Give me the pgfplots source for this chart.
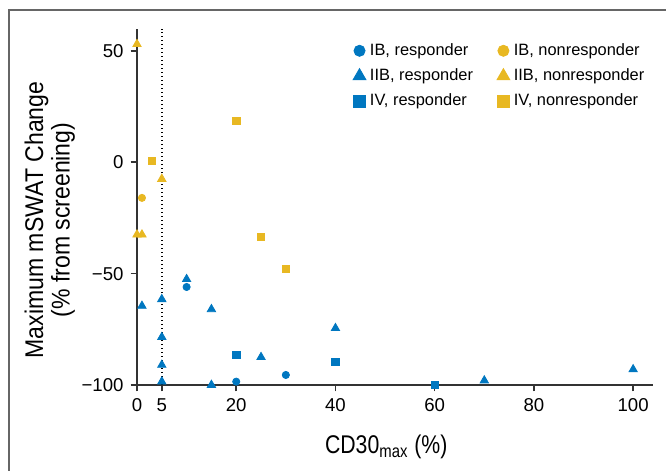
\documentclass[border=0pt]{standalone}
\usepackage{fontspec}
\setmainfont{Liberation Sans}
\newfontfamily\condfont[FakeStretch=0.83]{Liberation Sans}
\newfontfamily\condfontb[FakeStretch=0.9]{Liberation Sans}
\usepackage{pgfplots}
\pgfplotsset{compat=1.18}
\definecolor{respblue}{HTML}{0077C0}
\definecolor{nonyellow}{HTML}{E8B822}
\definecolor{axgray}{HTML}{333333}

\begin{document}
\begin{tikzpicture}
\useasboundingbox (-68.5pt,-43pt) rectangle (264.5pt,192.5pt);
\draw[gray!80!black,line width=0.6pt] (-64pt,-43pt) -- (-64pt,187.5pt) -- (264.5pt,187.5pt);
\begin{axis}[
  scale only axis,width=258pt,height=178.2pt,
  xmin=0,xmax=104,ymin=-100,ymax=60,
  axis lines*=left,
  axis line style={axgray,line width=1pt},
  tick style={axgray,line width=0.8pt},
  tick align=outside,major tick length=3.2pt,
  xtick={0,5,20,40,60,80,100},
  ytick={-100,-50,0,50},
  yticklabels={−100,−50,0,50},
  /pgf/number format/assume math mode=true,
  ticklabel style={font=\fontsize{9.3}{10}\selectfont},
  clip=false,
  xlabel={CD30\textsubscript{max} (\%)},
  xlabel style={font=\condfont\fontsize{12.8}{14}\selectfont,at={(rel axis cs:0.483,-0.174)},anchor=center},
  ylabel={Maximum mSWAT Change\\(\% from screening)},
  ylabel style={font=\condfontb\fontsize{12.8}{13.2}\selectfont,align=center,at={(rel axis cs:-0.169,0.463)},anchor=center},
  legend columns=2,
  legend cell align=left,
  legend style={at={(rel axis cs:0.418,0.971)},anchor=north west,draw=none,fill=none,
    inner sep=0pt,font=\fontsize{8.2}{9.5}\selectfont,row sep=1.2pt,
    /tikz/column 2/.style={column sep=10pt}},
  legend image post style={mark options={scale=1.55}},
]
\addplot[forget plot,dotted,line width=1pt,dash pattern=on 0.6pt off 1.4pt,black] coordinates {(5,-100) (5,60)};
\addplot[only marks,mark=*,respblue,mark size=1.8pt] coordinates {(10,-56) (20,-98.5) (30,-95.5)};
\addplot[only marks,mark=*,nonyellow,mark size=1.8pt] coordinates {(1,-16)};
\addplot[only marks,mark=triangle*,respblue,mark size=2.4pt] coordinates {
  (1,-64.5) (5,-61.5) (5,-78.5) (5,-91) (5,-98.5) (10,-52.5) (15,-66) (15,-100)
  (25,-87.5) (40,-74.5) (70,-98) (100,-93)};
\addplot[only marks,mark=triangle*,nonyellow,mark size=2.4pt] coordinates {(0,53) (5,-7.5) (0,-32.5) (1,-32.5)};
\addplot[only marks,mark=square*,respblue,mark size=1.85pt] coordinates {(20,-86.5) (40,-89.5) (60,-100)};
\addplot[only marks,mark=square*,nonyellow,mark size=1.85pt] coordinates {(3,0.5) (20,18.5) (25,-33.5) (30,-48)};
\legend{{IB, responder},{IB, nonresponder},{IIB, responder},{IIB, nonresponder},{IV, responder},{IV, nonresponder}}
\end{axis}
\end{tikzpicture}
\end{document}
